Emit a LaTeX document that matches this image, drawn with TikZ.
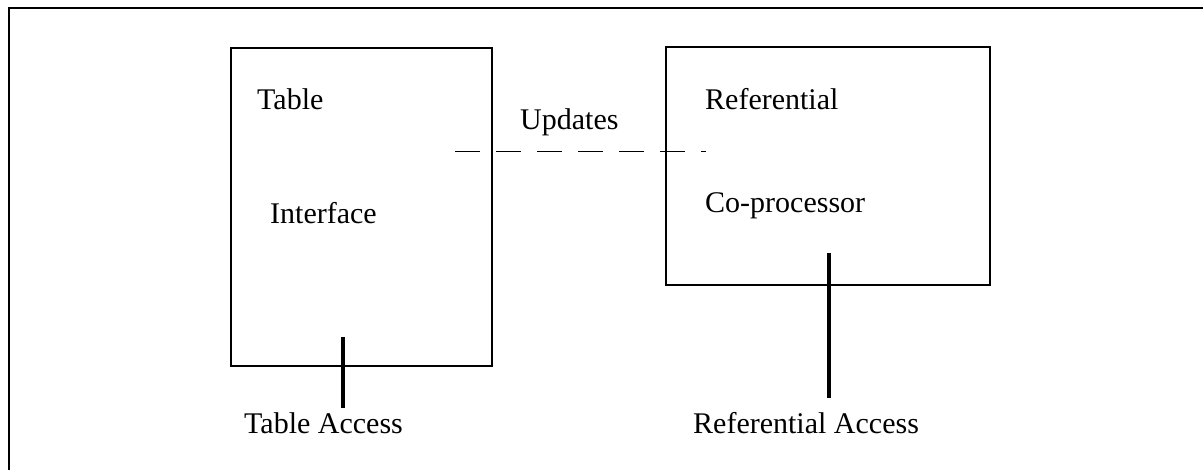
\documentclass[tikz,border=0pt]{standalone}
\usepackage{fontspec}
\setmainfont{Liberation Serif}
\begin{document}
\begin{tikzpicture}[x=1pt,y=-1pt,
  box/.style={draw, line width=2.2pt, rectangle, anchor=north west, inner sep=0pt, outer sep=0pt},
  lbl/.style={inner sep=0pt, anchor=base west, font=\fontsize{30}{36}\selectfont},
  access/.style={line width=4pt},
  upd/.style={line width=1pt, dash pattern=on 25pt off 16pt}]
\useasboundingbox (0,0) rectangle (1203,470);
% partial outer frame
\coordinate (fTR) at (1203,8);
\coordinate (fTL) at (9,8);
\coordinate (fBL) at (9,470);
\draw[line width=1.6pt] (fTR) -- (fTL) -- (fBL);
% boxes
\node[box, minimum width=261pt, minimum height=318pt] (tbl) at (231,48) {};
\node[box, minimum width=324pt, minimum height=238pt] (ref) at (666,47) {};
% labels
\node[lbl] (tTable) at (257,110) {Table};
\node[lbl] (tIface) at (270,224) {Interface};
\node[lbl] (tUpd) at (520,130) {Updates};
\node[lbl] (tRef) at (705,110) {Referential};
\node[lbl] (tCop) at (705,213) {Co-processor};
\node[lbl] (tAcc) at (244,433) {Table Access};
\node[lbl] (rAcc) at (693,433) {Referential Access};
% updates dashed line
\coordinate (u1) at (455,152);
\coordinate (u2) at (706,152);
\draw[upd] (u1) -- (u2);
% access lines
\coordinate (ta1) at (343,337);
\coordinate (ta2) at (343,408);
\draw[access] (ta1) -- (ta2);
\coordinate (ra1) at (829,253);
\coordinate (ra2) at (829,398);
\draw[access] (ra1) -- (ra2);
\end{tikzpicture}
\end{document}
